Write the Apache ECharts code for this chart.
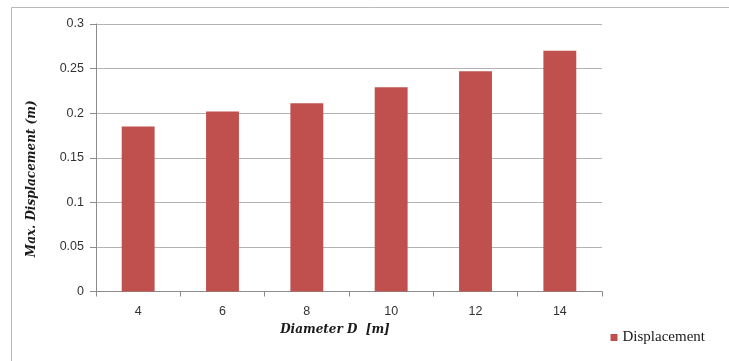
<!DOCTYPE html>
<html><head><meta charset="utf-8">
<script src="https://cdn.jsdelivr.net/npm/echarts@6/dist/echarts.min.js"></script>
<style>html,body{margin:0;padding:0;background:#fff}#c{width:729px;height:361px}</style>
</head><body><div id="c"></div>
<script>
const categories = ['4','6','8','10','12','14'];
const displacement = [0.185, 0.202, 0.211, 0.229, 0.247, 0.270];
const seriesName = 'Displacement';
const xTitle = 'Diameter D  [m]';
const yTitle = 'Max. Displacement (m)';

const chart = echarts.init(document.getElementById('c'));
chart.setOption({
  animation: false,
  graphic: [{type:'rect', shape:{x:11.5,y:7.5,width:760,height:400}, style:{fill:'none', stroke:'#b9b9b9', lineWidth:1}}],
  grid: {left:96, right:127, top:24, bottom:69.5, containLabel:false},
  legend: {
    data:[seriesName], right: 19, top: 325, itemWidth:7, itemHeight:7, itemGap:4,
    icon:'rect',
    textStyle:{fontFamily:'Liberation Serif', fontSize:15, color:'#1a1a1a'}
  },
  xAxis: {
    type:'category', data: categories,
    name: xTitle, nameLocation:'middle', nameGap:32,
    nameTextStyle:{fontFamily:'DejaVu Serif', fontStyle:'italic', fontWeight:'bold', fontSize:12, color:'#1a1a1a', padding:[0,28,0,0]},
    axisLine:{lineStyle:{color:'#8c8c8c'}},
    axisTick:{show:true, length:5, lineStyle:{color:'#8c8c8c'}},
    axisLabel:{fontFamily:'Liberation Sans', fontSize:12.5, color:'#333', margin:14}
  },
  yAxis: {
    type:'value', min:0, max:0.3, interval:0.05,
    name: yTitle, nameLocation:'middle', nameGap:58,
    nameTextStyle:{fontFamily:'DejaVu Serif', fontStyle:'italic', fontWeight:'bold', fontSize:12, color:'#1a1a1a', padding:[0,42,0,0]},
    axisLine:{show:true, lineStyle:{color:'#8c8c8c'}},
    axisTick:{show:true, length:6, lineStyle:{color:'#8c8c8c'}},
    splitLine:{lineStyle:{color:'#b3b3b3'}},
    axisLabel:{fontFamily:'Liberation Sans', fontSize:12.5, color:'#333', margin:12,
      formatter: v => String(+v.toFixed(2))}
  },
  series: [{
    name: seriesName, type:'bar', data: displacement,
    barWidth:'39%',
    itemStyle:{color:'#c0504d'}
  }]
});
</script></body></html>
